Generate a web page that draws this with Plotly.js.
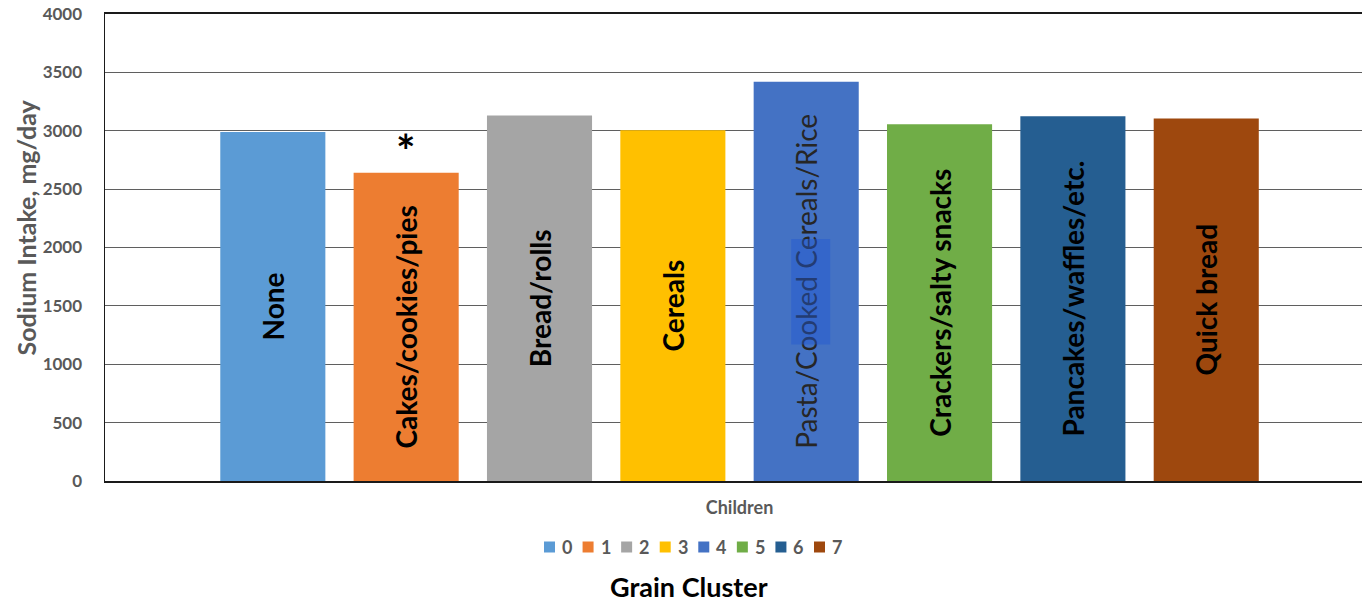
<!DOCTYPE html>
<html>
<head>
<meta charset="utf-8">
<script src="https://cdn.plot.ly/plotly-3.0.1.min.js"></script>
<style>
  html, body { margin: 0; padding: 0; background: #ffffff; }
  #chart { width: 1362px; height: 602px; }
</style>
</head>
<body>
<div id="chart"></div>
<script>
// Sodium intake (mg/day) among children by grain cluster
const groupLabel = 'Children';
const clusterIds = ['0', '1', '2', '3', '4', '5', '6', '7'];
const clusterNames = [
  'None',
  'Cakes/cookies/pies',
  'Bread/rolls',
  'Cereals',
  'Pasta/Cooked Cereals/Rice',
  'Crackers/salty snacks',
  'Pancakes/waffles/etc.',
  'Quick bread'
];
const sodiumMg = [2990, 2640, 3130, 3005, 3420, 3055, 3125, 3105];
const significant = [false, true, false, false, false, false, false, false];
const clusterColors = ['#5B9BD5', '#ED7D31', '#A5A5A5', '#FFC000', '#4472C4', '#70AD47', '#255E91', '#9E480E'];

const FONT = 'Lato, "Open Sans", sans-serif';
const W = 1362, H = 602;
const M = { l: 105, r: 0, t: 14, b: 121 };
const BARGAP = 0.1594;
const GROUPGAP = 0.212;

// pixel -> paper helpers for items placed outside the plot area
const plotW = W - M.l - M.r, plotH = H - M.t - M.b;
const px2x = px => (px - M.l) / plotW;
const py2y = py => (H - M.b - py) / plotH;

// centre of bar i inside the single category group (category sits at x = 0)
function slotCenter(i) {
  const groupW = 1 - BARGAP;
  const slot = groupW / clusterIds.length;
  return -groupW / 2 + (i + 0.5) * slot;
}

const traces = clusterIds.map((id, i) => ({
  type: 'bar',
  name: id,
  x: [groupLabel],
  y: [sodiumMg[i]],
  text: [clusterNames[i]],
  textposition: 'inside',
  insidetextanchor: 'middle',
  textangle: -90,
  constraintext: 'none',
  cliponaxis: false,
  showlegend: false,
  textfont: {
    family: FONT,
    size: 28,
    color: i === 4 ? '#262626' : '#000000',
    weight: i === 4 ? 400 : 700
  },
  marker: { color: clusterColors[i], line: { width: 0 } },
  hoverinfo: 'skip'
}));

const annotations = [];
const shapes = [];

sodiumMg.forEach((v, i) => {
  if (significant[i]) {
    annotations.push({
      xref: 'x', yref: 'y',
      x: slotCenter(i), y: v,
      text: '*',
      showarrow: false,
      xanchor: 'center', yanchor: 'bottom',
      yshift: -7,
      font: { family: FONT, size: 46, color: '#000000', weight: 700 }
    });
  }
});

// compact horizontal legend row: swatch + series id
const legendLeft = 544, legendPitch = 38.57, legendMidY = 547, swatch = 11;
clusterIds.forEach((id, i) => {
  const x0 = legendLeft + i * legendPitch;
  shapes.push({
    type: 'rect', xref: 'paper', yref: 'paper',
    x0: px2x(x0), x1: px2x(x0 + swatch),
    y0: py2y(legendMidY + swatch / 2), y1: py2y(legendMidY - swatch / 2),
    fillcolor: clusterColors[i], line: { width: 0 }
  });
  annotations.push({
    xref: 'paper', yref: 'paper',
    x: px2x(x0 + swatch + 5), y: py2y(legendMidY),
    text: id, showarrow: false,
    xanchor: 'left', yanchor: 'middle',
    font: { family: FONT, size: 18, color: '#595959', weight: 700 }
  });
});

// vertical axis title
annotations.push({
  xref: 'paper', yref: 'paper',
  x: px2x(26), y: 0.543,
  text: 'Sodium Intake, mg/day',
  textangle: -90,
  showarrow: false,
  xanchor: 'center', yanchor: 'middle',
  font: { family: FONT, size: 25, color: '#595959', weight: 700 }
});

// horizontal axis title below the legend
annotations.push({
  xref: 'paper', yref: 'paper',
  x: px2x(689), y: py2y(586),
  height: 28,
  valign: 'middle',
  text: 'Grain Cluster',
  showarrow: false,
  xanchor: 'center', yanchor: 'middle',
  font: { family: FONT, size: 27, color: '#000000', weight: 700 }
});

// darker selection patch over the pasta bar
const pastaIdx = 4;
shapes.push({
  type: 'rect',
  xref: 'x', yref: 'y',
  x0: slotCenter(pastaIdx) - 0.0118,
  x1: slotCenter(pastaIdx) + 0.0189,
  y0: sodiumMg[pastaIdx] * 0.342,
  y1: sodiumMg[pastaIdx] * 0.606,
  fillcolor: 'rgba(34,88,210,0.45)',
  line: { width: 0 },
  layer: 'above'
});

const layout = {
  width: W,
  height: H,
  margin: { l: M.l, r: M.r, t: M.t, b: M.b, pad: 0 },
  paper_bgcolor: '#ffffff',
  plot_bgcolor: '#ffffff',
  barmode: 'group',
  bargap: BARGAP,
  bargroupgap: GROUPGAP,
  showlegend: false,
  xaxis: {
    type: 'category',
    range: [-0.5, 0.4905],
    showline: true,
    mirror: true,
    linecolor: '#1a1a1a',
    linewidth: 2,
    showgrid: false,
    ticks: '',
    ticklabelstandoff: 9,
    tickfont: { family: FONT, size: 18, color: '#595959', weight: 700 },
    fixedrange: true
  },
  yaxis: {
    range: [0, 4000],
    dtick: 500,
    tick0: 0,
    showline: true,
    linecolor: '#1a1a1a',
    linewidth: 1.5,
    showgrid: true,
    gridcolor: '#5f5f5f',
    gridwidth: 1,
    zeroline: false,
    ticks: '',
    ticklabelstandoff: 18,
    tickfont: { family: FONT, size: 17, color: '#595959', weight: 700 },
    fixedrange: true
  },
  annotations: annotations,
  shapes: shapes
};

Plotly.newPlot('chart', traces, layout, { displayModeBar: false, staticPlot: true });
</script>
</body>
</html>
